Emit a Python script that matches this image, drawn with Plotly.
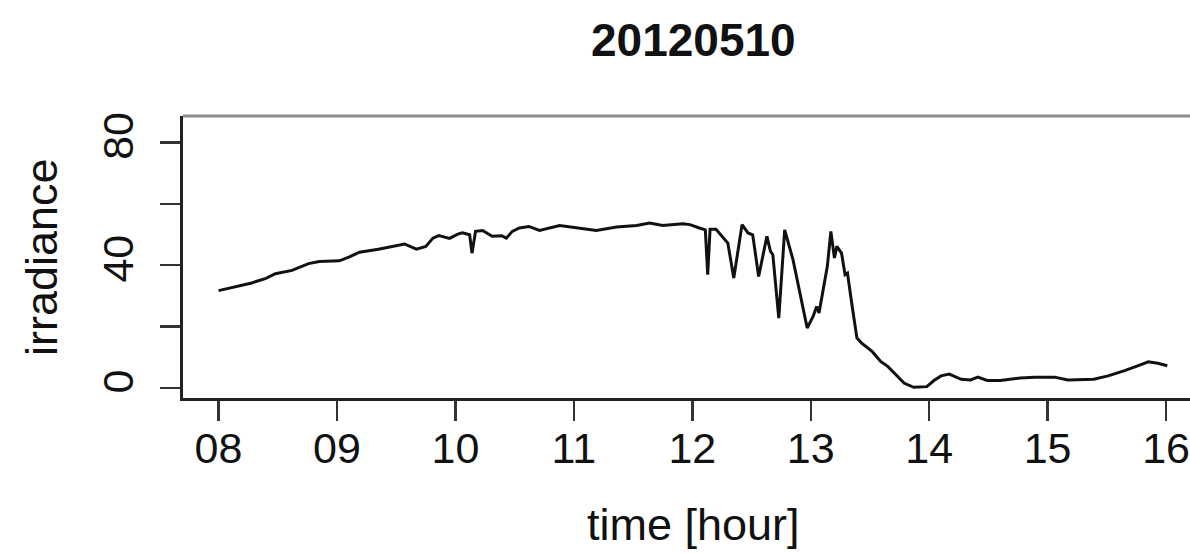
import plotly.graph_objects as go

# ---- data ----
hours = [8.00, 8.17, 8.28, 8.40, 8.48, 8.62, 8.76, 8.85, 9.02, 9.10, 9.19, 9.35,
         9.52, 9.57, 9.67, 9.75, 9.81, 9.86, 9.95, 10.02, 10.06, 10.12, 10.14,
         10.17, 10.23, 10.31, 10.39, 10.43, 10.48, 10.54, 10.62, 10.71, 10.88,
         11.02, 11.19, 11.36, 11.53, 11.64, 11.75, 11.92, 11.98, 12.06, 12.11,
         12.13, 12.15, 12.20, 12.26, 12.30, 12.35, 12.42, 12.47, 12.51, 12.56,
         12.63, 12.66, 12.68, 12.73, 12.78, 12.85, 12.91, 12.97, 13.02, 13.05,
         13.07, 13.10, 13.14, 13.17, 13.20, 13.22, 13.26, 13.29, 13.31, 13.35,
         13.39, 13.43, 13.52, 13.59, 13.65, 13.79, 13.87, 13.98, 14.04, 14.10,
         14.17, 14.27, 14.35, 14.41, 14.49, 14.60, 14.77, 14.89, 15.06, 15.17,
         15.39, 15.51, 15.65, 15.76, 15.85, 15.93, 16.01]
irradiance = [31.7, 33.3, 34.2, 35.7, 37.2, 38.3, 40.5, 41.2, 41.4, 42.6, 44.2, 45.2,
              46.7, 46.9, 45.2, 46.1, 48.8, 49.6, 48.7, 50.1, 50.5, 49.9, 43.9,
              51.0, 51.3, 49.4, 49.6, 48.8, 51.0, 52.1, 52.6, 51.3, 52.9,
              52.1, 51.3, 52.4, 52.9, 53.7, 52.9, 53.5, 53.2, 52.1, 51.5,
              36.9, 51.7, 51.7, 48.8, 47.2, 35.8, 53.2, 50.5, 49.9, 36.3,
              49.4, 44.5, 43.4, 22.7, 51.5, 41.8, 30.9, 19.5, 23.3, 26.5,
              24.4, 30.9, 39.6, 51.0, 42.3, 46.1, 43.9, 36.9, 37.4, 26.5,
              16.2, 14.6, 11.8, 8.6, 7.0, 1.5, 0.2, 0.4, 2.4, 3.9,
              4.5, 2.8, 2.6, 3.5, 2.4, 2.4, 3.2, 3.5, 3.5, 2.6,
              2.8, 3.9, 5.6, 7.2, 8.5, 8.0, 7.2]

x_tick_vals = [8, 9, 10, 11, 12, 13, 14, 15, 16]
x_tick_text = ["08", "09", "10", "11", "12", "13", "14", "15", "16"]
y_tick_vals = [0, 20, 40, 60, 80]
y_tick_text = ["0", "", "40", "", "80"]

title_text = "20120510"
x_title = "time [hour]"
y_title = "irradiance"

FONT = "Liberation Sans, Arial, Helvetica, sans-serif"

fig = go.Figure()
fig.add_trace(go.Scatter(x=hours, y=irradiance, mode="lines",
                         line=dict(color="#111111", width=3),
                         showlegend=False, hoverinfo="skip"))

fig.update_layout(
    width=1190, height=554, autosize=False,
    margin=dict(l=183, r=0, t=116, b=156, pad=0),
    paper_bgcolor="white", plot_bgcolor="white",
    font=dict(family=FONT, color="#111111"),
    xaxis=dict(range=[7.70, 16.202], tickmode="array", tickvals=x_tick_vals,
               ticktext=x_tick_text, ticks="outside", ticklen=20, tickwidth=2.5,
               tickcolor="#333333", showline=True, linecolor="#222222", linewidth=3,
               showgrid=False, zeroline=False, ticklabelstandoff=-10,
               tickfont=dict(size=43, family=FONT)),
    yaxis=dict(range=[-3.3, 88.6], tickmode="array", tickvals=y_tick_vals,
               ticktext=y_tick_text, tickangle=-90, ticks="outside", ticklen=20,
               tickwidth=2.5, tickcolor="#333333", showline=True, linecolor="#222222",
               linewidth=3, showgrid=False, zeroline=False, ticklabelstandoff=10,
               tickfont=dict(size=43, family=FONT)),
    shapes=[dict(type="line", xref="paper", yref="paper", x0=0, x1=1, y0=1, y1=1,
                 line=dict(color="#8a8a8a", width=3))],
    annotations=[
        dict(text="<b>%s</b>" % title_text, xref="paper", yref="paper",
             x=0.5065, y=1.2695, xanchor="center", yanchor="middle",
             showarrow=False, font=dict(size=46, family=FONT, color="#111111")),
        dict(text=x_title, xref="paper", yref="paper", x=0.5065, y=-0.45,
             xanchor="center", yanchor="middle", showarrow=False,
             font=dict(size=45, family=FONT, color="#111111")),
        dict(text=y_title, xref="paper", yref="paper", x=-0.141, y=0.5,
             xanchor="center", yanchor="middle", textangle=-90, showarrow=False,
             font=dict(size=45, family=FONT, color="#111111")),
    ],
)

fig.write_html("out.html",
               config={"displayModeBar": False, "staticPlot": True},
               post_script="document.body.style.margin='0';"
                           "document.body.style.overflow='hidden';")
